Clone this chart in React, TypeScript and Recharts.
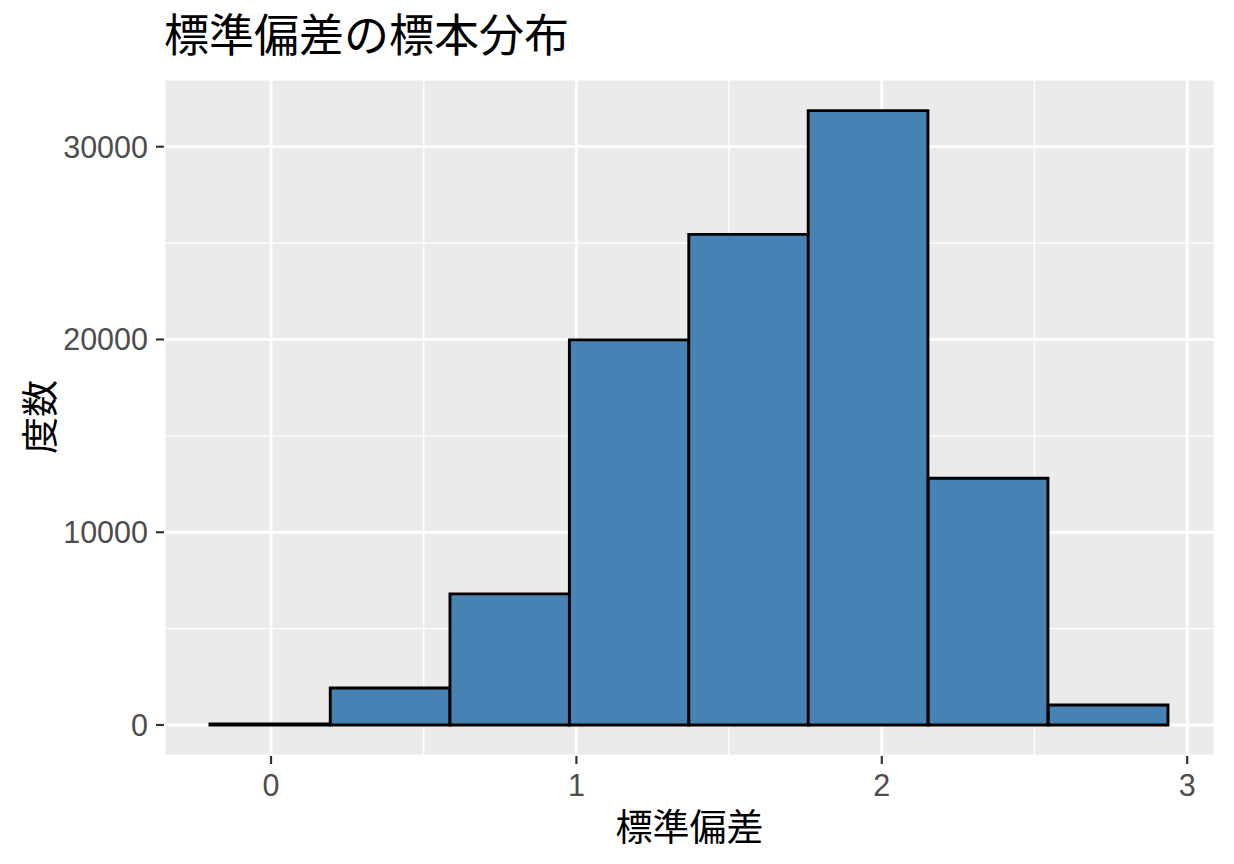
import React from "react";
import {
  ComposedChart,
  XAxis,
  YAxis,
  CartesianGrid,
  ReferenceArea,
  ReferenceLine,
} from "recharts";

// Histogram bins (left edges) and counts
const binStarts = [-0.2, 0.194, 0.586, 0.977, 1.368, 1.759, 2.152, 2.545];
const binWidth = 0.392;
const counts = [60, 1920, 6800, 19980, 25450, 31870, 12800, 1040];

const xTicks = [0, 1, 2, 3];
const yTicks = [0, 10000, 20000, 30000];
const xMinor = [0.5, 1.5, 2.5];
const yMinor = [5000, 15000, 25000];

const titleText = "標準偏差の標本分布";
const xLabel = "標準偏差";
const yLabel = "度数";

const bins = binStarts.map((s, i) => ({
  x0: s,
  x1: s + binWidth,
  mid: s + binWidth / 2,
  count: counts[i],
}));

const FONT = '"Liberation Sans", Arial, "Noto Sans CJK JP", sans-serif';
const CJK = '"Noto Sans CJK JP", "Liberation Sans", sans-serif';

export default function App() {
  return (
    <div
      style={{
        position: "absolute",
        left: 0,
        top: 0,
        width: 1234,
        height: 864,
        background: "#fff",
      }}
    >
      <ComposedChart
        width={1234}
        height={864}
        data={bins}
        margin={{ top: 79, right: 19, bottom: 0, left: 0 }}
      >
        <CartesianGrid
          fill="#EBEBEB"
          stroke="#FFFFFF"
          strokeWidth={2.8}
          strokeOpacity={1}
        />
        <XAxis
          type="number"
          dataKey="mid"
          domain={[-0.3504, 3.091]}
          allowDataOverflow
          ticks={xTicks}
          axisLine={false}
          tickLine={{ stroke: "#333333", strokeWidth: 2.2 }}
          tickSize={8}
          tickMargin={10}
          height={108}
          tick={{ fill: "#4D4D4D", fontSize: 30.5, fontFamily: FONT }}
        />
        <YAxis
          type="number"
          domain={[-1608, 33512]}
          allowDataOverflow
          ticks={yTicks}
          axisLine={false}
          tickLine={{ stroke: "#333333", strokeWidth: 2.2 }}
          tickSize={8}
          tickMargin={8}
          width={164}
          tick={{ fill: "#4D4D4D", fontSize: 30.5, fontFamily: FONT }}
        />
        {xMinor.map((v) => (
          <ReferenceLine
            key={"xm" + v}
            x={v}
            stroke="#FFFFFF"
            strokeWidth={1.4}
            zIndex={-90}
          />
        ))}
        {yMinor.map((v) => (
          <ReferenceLine
            key={"ym" + v}
            y={v}
            stroke="#FFFFFF"
            strokeWidth={1.4}
            zIndex={-90}
          />
        ))}
        {bins.map((b, i) => (
          <ReferenceArea
            key={"bin" + i}
            x1={b.x0}
            x2={b.x1}
            y1={0}
            y2={b.count}
            fill="#4682B4"
            fillOpacity={1}
            stroke="#000000"
            strokeWidth={2.9}
            strokeOpacity={1}
            ifOverflow="visible"
            zIndex={300}
          />
        ))}
      </ComposedChart>
      <svg
        width={1234}
        height={864}
        style={{ position: "absolute", left: 0, top: 0, pointerEvents: "none" }}
      >
        <text x={164} y={52} fontSize={45} fontFamily={CJK} fill="#000">
          {titleText}
        </text>
        <text
          x={689.5}
          y={841}
          fontSize={37}
          fontFamily={CJK}
          fill="#000"
          textAnchor="middle"
        >
          {xLabel}
        </text>
        <text
          transform="translate(54,417) rotate(-90)"
          fontSize={37}
          fontFamily={CJK}
          fill="#000"
          textAnchor="middle"
        >
          {yLabel}
        </text>
      </svg>
    </div>
  );
}
